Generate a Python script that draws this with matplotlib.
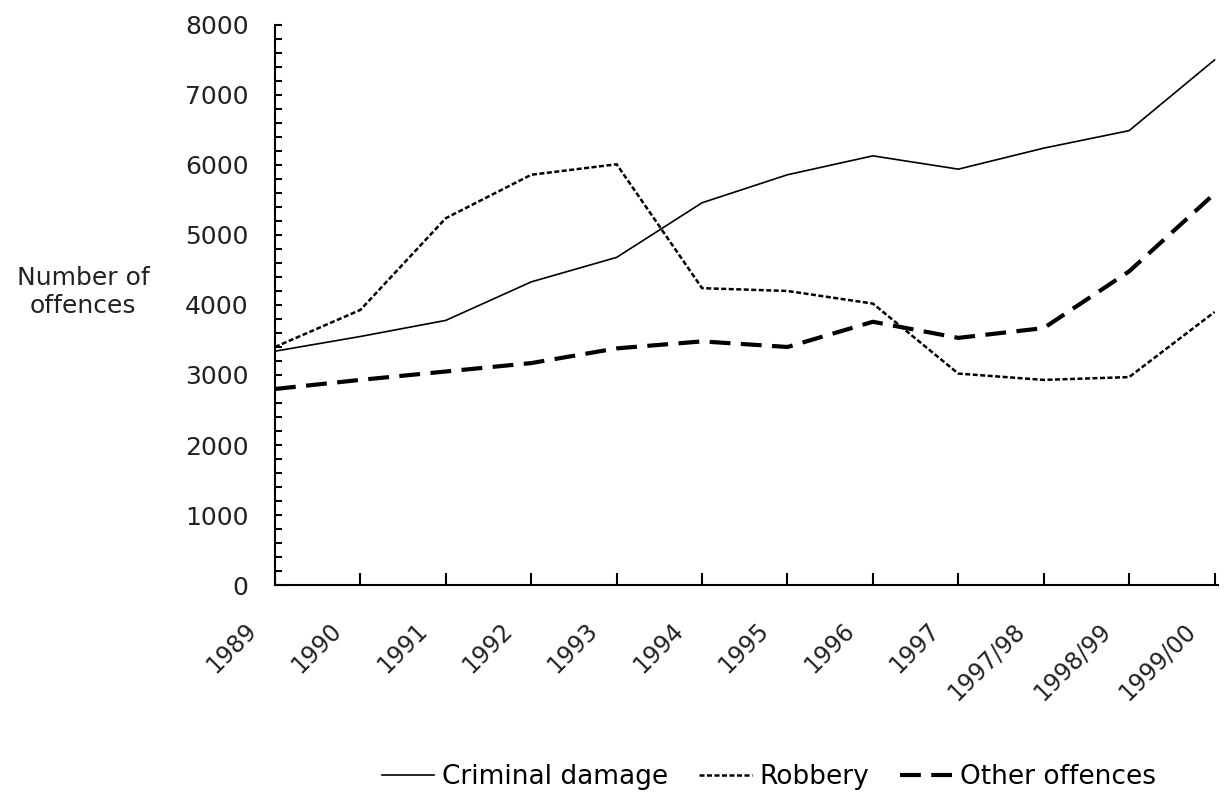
import numpy as np
import matplotlib.pyplot as plt
from matplotlib.ticker import MultipleLocator
from matplotlib.transforms import ScaledTranslation

years = ["1989", "1990", "1991", "1992", "1993", "1994", "1995", "1996",
         "1997", "1997/98", "1998/99", "1999/00"]
criminal = [3340, 3550, 3780, 4330, 4680, 5460, 5860, 6130, 5940, 6240, 6490, 7500]
robbery = [3400, 3930, 5240, 5860, 6010, 4240, 4200, 4020, 3020, 2930, 2970, 3900]
other = [2800, 2930, 3050, 3170, 3380, 3480, 3400, 3760, 3530, 3670, 4480, 5590]

plt.rcParams['font.family'] = ['DejaVu Sans']
plt.rcParams['font.size'] = 17

fig = plt.figure(figsize=(12.31, 7.99), dpi=100)
ax = fig.add_axes([0.2234, 0.2678, 0.766, 0.701])

x = np.arange(len(years))
ax.plot(x, criminal, color='black', lw=1.2, label='Criminal damage')
ax.plot(x, robbery, color='black', lw=1.8, dashes=(2, 1), label='Robbery')
ax.plot(x, other, color='black', lw=3, dashes=(5, 2.5), label='Other offences')

ax.set_xlim(0, 11.04)
ax.set_ylim(0, 8000)
ax.yaxis.set_major_locator(MultipleLocator(1000))
ax.yaxis.set_minor_locator(MultipleLocator(200))
ax.set_xticks(x)
ax.set_xticklabels(years, rotation=45, ha='right', color='#222222')
ax.tick_params(axis='x', direction='in', length=9, width=1.5, pad=24)
ax.tick_params(axis='y', which='both', direction='in', length=5, width=1.5, pad=19)
ax.tick_params(axis='y', labelcolor='#222222', labelsize=18)

# shift rotated labels a bit left of their ticks, as in the original
shift = ScaledTranslation(-14 / 100, 0, fig.dpi_scale_trans)
for lab in ax.get_xticklabels():
    lab.set_transform(lab.get_transform() + shift)

for s in ['top', 'right']:
    ax.spines[s].set_visible(False)
for s in ['left', 'bottom']:
    ax.spines[s].set_linewidth(1.5)

fig.text(83 / 1231, 1 - 292 / 799, "Number of\noffences", ha='center', va='center',
         multialignment='center', color='#222222', fontsize=18)

fig.legend(loc='center', bbox_to_anchor=(769 / 1231, 1 - 777 / 799), ncol=3,
           frameon=False, fontsize=19, handlelength=2.0, handletextpad=0.3,
           columnspacing=1.15)

fig.savefig('out.png', dpi=100)
